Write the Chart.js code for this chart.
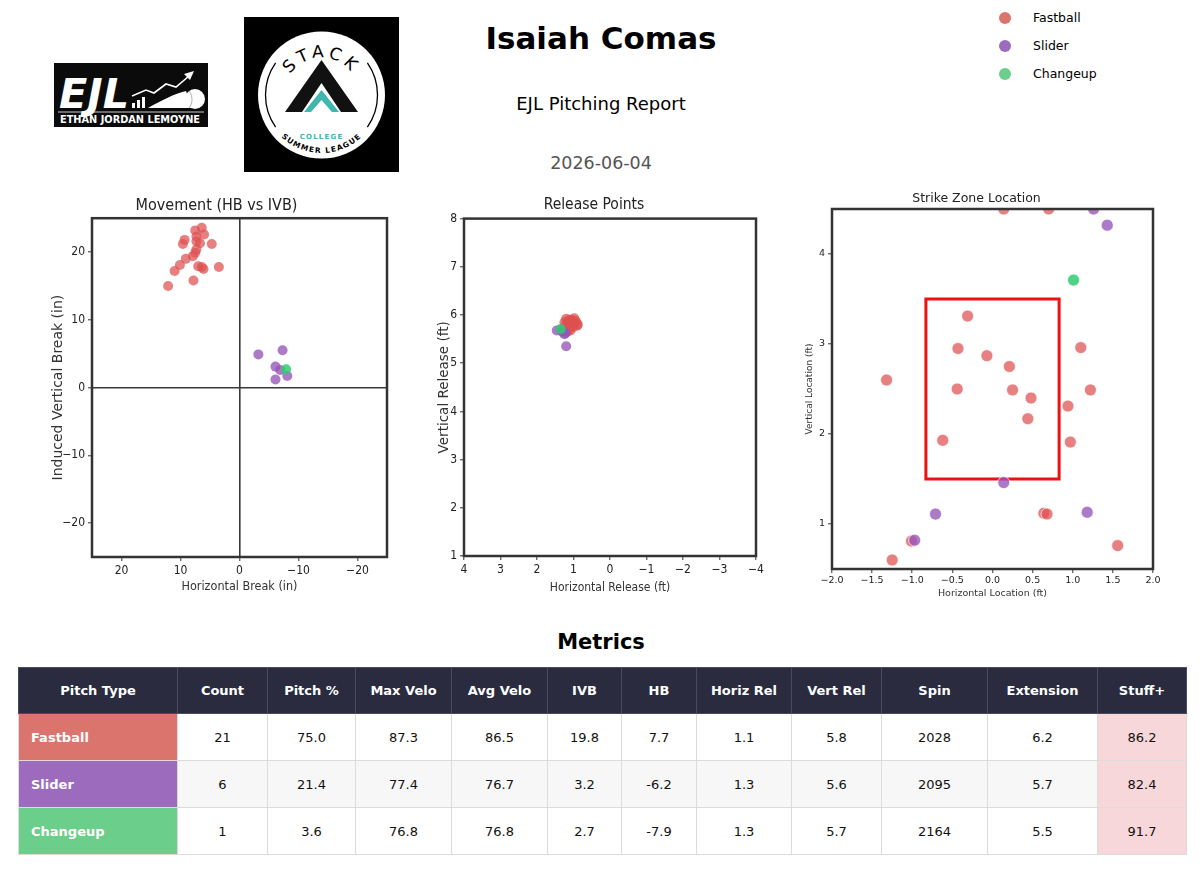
<!DOCTYPE html>
<html>
<head>
<meta charset="utf-8">
<title>Isaiah Comas - EJL Pitching Report</title>
<script src="https://cdn.jsdelivr.net/npm/chart.js@4.4.1/dist/chart.umd.min.js"></script>
<style>
  html, body { margin: 0; padding: 0; background: #fff; }
  #page { position: relative; width: 1200px; height: 880px; overflow: hidden; font-family: 'DejaVu Sans', sans-serif; color: #000; }
  .abs { position: absolute; }
  .center { position: absolute; left: 0; width: 1202px; text-align: center; white-space: nowrap; }
  #title { top: 19px; font-size: 31px; font-weight: bold; line-height: 38px; }
  #subtitle { top: 93px; font-size: 18px; line-height: 22px; }
  #date { top: 152px; font-size: 17.5px; line-height: 22px; color: #555; }
  #legend { position: absolute; left: 999px; top: 0; font-size: 12.5px; }
  .leg { position: absolute; left: 0; height: 20px; line-height: 20px; white-space: nowrap; }
  .leg i { position: absolute; left: 0; top: 4px; width: 12px; height: 12px; border-radius: 50%; }
  .leg span { position: absolute; left: 34px; }
  .chartbox { position: absolute; }
  #metricsTitle { top: 629px; font-size: 21px; font-weight: bold; line-height: 26px; }
  #metrics { position: absolute; left: 18px; top: 667px; border-collapse: collapse; table-layout: fixed; font-size: 13px; }
  #metrics th { background: #2a2b3e; color: #fff; font-weight: bold; height: 45px; padding: 0; border: 1px solid #4a4b5c; text-align: center; }
  #metrics td { height: 46px; padding: 0; border: 1px solid #dcdcdc; text-align: center; color: #111; }
  #metrics tr.alt td { background: #f7f7f7; }
  #metrics td.ptype { color: #fff; font-weight: bold; text-align: left; padding-left: 12px; }
  #metrics td.stuff { background: #f8d7da !important; }
</style>
</head>
<body>
<div id="page">

  <svg class="abs" style="left:54px;top:63px" width="154" height="64" viewBox="0 0 154 64">
    <rect width="154" height="64" fill="#0b0b0b"/>
    <text x="5" y="45" fill="#fff" font-family="DejaVu Sans" font-weight="bold" font-style="italic" font-size="40" textLength="70" lengthAdjust="spacingAndGlyphs">EJL</text>
    <g fill="#fff">
      <rect x="78" y="40" width="3" height="5"/><rect x="83" y="37" width="3" height="8"/><rect x="88" y="34" width="3" height="11"/>
    </g>
    <polyline points="78,33 92,27 100,30 112,21 122,24 135,13" fill="none" stroke="#fff" stroke-width="1.6"/>
    <polygon points="140,8 130,11 136,17" fill="#fff"/>
    <path d="M94,45 C108,37 120,31 132,28 L138,45 Z" fill="#fff"/>
    <circle cx="141" cy="36" r="10" fill="#fff"/>
    <path d="M135,28 C139,33 139,40 135,45" fill="none" stroke="#999" stroke-width="0.8"/>
    <line x1="4" y1="49" x2="150" y2="49" stroke="#fff" stroke-width="0.8"/>
    <text x="76" y="60" text-anchor="middle" fill="#fff" font-family="DejaVu Sans" font-weight="bold" font-size="10.5" textLength="140" lengthAdjust="spacingAndGlyphs">ETHAN JORDAN LEMOYNE</text>
  </svg>

  <svg class="abs" style="left:244px;top:17px" width="155" height="155" viewBox="0 0 155 155">
    <rect width="155" height="155" fill="#000"/>
    <circle cx="77.5" cy="78" r="63.5" fill="#fff"/>
    <path d="M31.6,45.9 A56,56 0 0 0 31.6,110.1" fill="none" stroke="#000" stroke-width="1.3"/>
    <path d="M123.4,45.9 A56,56 0 0 1 123.4,110.1" fill="none" stroke="#000" stroke-width="1.3"/>
    <path id="arcTop" d="M 40,78 A 37.5,37.5 0 0 1 115,78" fill="none"/>
    <text font-family="DejaVu Sans" font-size="17" letter-spacing="4" fill="#000"><textPath href="#arcTop" startOffset="50%" text-anchor="middle">STACK</textPath></text>
    <path d="M77.5,43 L114,95 L97,95 L77.5,66 L58,95 L41,95 Z" fill="#111"/>
    <path d="M77.5,73 L95,95 L88,95 L77.5,83 L67,95 L60,95 Z" fill="#3fb6ae"/>
    <text x="77.5" y="122" text-anchor="middle" font-family="DejaVu Sans" font-weight="bold" font-size="7" letter-spacing="1.2" fill="#3fb6ae">COLLEGE</text>
    <path id="arcBot" d="M 19.5,78 A 58,58 0 0 0 135.5,78" fill="none"/>
    <text font-family="DejaVu Sans" font-weight="bold" font-size="7.5" letter-spacing="1.2" fill="#000"><textPath href="#arcBot" startOffset="50%" text-anchor="middle">SUMMER LEAGUE</textPath></text>
  </svg>

  <div id="title" class="center">Isaiah Comas</div>
  <div id="subtitle" class="center">EJL Pitching Report</div>
  <div id="date" class="center">2026-06-04</div>
  <div id="legend"></div>

  <div class="chartbox" style="left:40px;top:190px;width:360px;height:410px"><canvas id="movementChart"></canvas></div>
  <div class="chartbox" style="left:420px;top:190px;width:360px;height:410px"><canvas id="releaseChart"></canvas></div>
  <div class="chartbox" style="left:790px;top:180px;width:380px;height:430px"><canvas id="locationChart"></canvas></div>

  <div id="metricsTitle" class="center">Metrics</div>
  <table id="metrics"></table>
</div>

<script>
// ---- data ----
const pitchTypes = ['Fastball', 'Slider', 'Changeup'];
const pitchColors = ['#dc746e', '#9d6bbd', '#6bce8a'];
const pointColors = ['rgba(222, 80, 80, 0.72)', 'rgba(150, 85, 185, 0.78)', 'rgba(46, 204, 113, 0.85)'];

// movement: horizontal break / induced vertical break (in)
const fastballHB  = [12.1, 11.0, 10.1, 9.1, 9.6, 9.3, 7.9, 7.5, 7.3, 7.5, 7.3, 6.4, 6.0, 6.7, 4.7, 7.8, 7.0, 6.4, 6.1, 3.5, 7.3];
const fastballIVB = [15.0, 17.2, 18.1, 19.0, 21.2, 21.8, 19.4, 19.9, 20.4, 23.2, 22.3, 23.6, 22.6, 21.3, 21.2, 15.8, 17.9, 17.8, 17.5, 17.8, 21.6];
const sliderHB    = [-3.2, -7.3, -6.1, -6.9, -6.1, -8.1];
const sliderIVB   = [4.9, 5.5, 3.1, 2.6, 1.2, 1.7];
const changeupHB  = [-7.9];
const changeupIVB = [2.7];

// release points (ft)
const fastballRelX = [1.20, 1.15, 1.05, 0.98, 0.92, 0.90, 1.00, 1.10, 1.18, 1.22, 1.12, 1.05, 0.95, 1.25, 1.08, 1.15, 1.02, 0.88, 1.20, 1.10, 1.16];
const fastballRelZ = [5.92, 5.88, 5.90, 5.93, 5.85, 5.78, 5.75, 5.72, 5.78, 5.70, 5.82, 5.80, 5.88, 5.85, 5.68, 5.75, 5.84, 5.80, 5.80, 5.90, 5.66];
const sliderRelX   = [1.46, 1.22, 1.30, 1.20, 1.35, 1.25];
const sliderRelZ   = [5.68, 5.62, 5.65, 5.35, 5.70, 5.60];
const changeupRelX = [1.35];
const changeupRelZ = [5.71];

// plate location (ft)
const fastballLocX = [0.14, 0.70, -0.31, -0.43, -0.07, 0.21, -1.32, -0.44, 0.25, 0.48, 1.10, 1.22, 0.94, 0.44, -0.62, 0.97, 0.64, 0.68, -1.01, -1.25, 1.56];
const fastballLocZ = [4.50, 4.50, 3.31, 2.95, 2.87, 2.75, 2.60, 2.50, 2.49, 2.40, 2.96, 2.49, 2.31, 2.17, 1.93, 1.91, 1.12, 1.11, 0.81, 0.60, 0.76];
const sliderLocX   = [1.26, 1.43, 0.14, -0.71, -0.97, 1.18];
const sliderLocZ   = [4.50, 4.32, 1.46, 1.11, 0.82, 1.13];
const changeupLocX = [1.01];
const changeupLocZ = [3.71];

// strike zone box
const zoneX = [-0.83, 0.83];
const zoneZ = [1.5, 3.5];

// tick labels
const movementTicks = [-20, -10, 0, 10, 20];
const releaseXTicks = [4, 3, 2, 1, 0, -1, -2, -3, -4];
const releaseZTicks = [1, 2, 3, 4, 5, 6, 7, 8];
const locationXTicks = [-2, -1.5, -1, -0.5, 0, 0.5, 1, 1.5, 2];
const locationZTicks = [1, 2, 3, 4];

// metrics table
const metricColumns = ['Pitch Type', 'Count', 'Pitch %', 'Max Velo', 'Avg Velo', 'IVB', 'HB', 'Horiz Rel', 'Vert Rel', 'Spin', 'Extension', 'Stuff+'];
const fastballMetrics = ['21', '75.0', '87.3', '86.5', '19.8', '7.7', '1.1', '5.8', '2028', '6.2', '86.2'];
const sliderMetrics   = ['6', '21.4', '77.4', '76.7', '3.2', '-6.2', '1.3', '5.6', '2095', '5.7', '82.4'];
const changeupMetrics = ['1', '3.6', '76.8', '76.8', '2.7', '-7.9', '1.3', '5.7', '2164', '5.5', '91.7'];
const colWidths = [159, 90, 88, 96, 96, 74, 75, 95, 90, 106, 110, 89];

// ---- helpers ----
const NARROW = "'Liberation Sans Narrow', 'DejaVu Sans Condensed', 'DejaVu Sans', sans-serif";
const REGULAR = "'DejaVu Sans', sans-serif";

function toPoints(xs, ys) {
  return xs.map((x, i) => ({ x: x, y: ys[i] }));
}

function minusSign(v, decimals) {
  let s = decimals ? Number(v).toFixed(decimals) : String(v);
  return s.replace('-', '\u2212');
}

const framePlugin = {
  id: 'frame',
  afterDatasetsDraw(chart) {
    const a = chart.chartArea, c = chart.ctx;
    c.save();
    c.strokeStyle = '#333';
    c.lineWidth = 2.5;
    c.strokeRect(a.left, a.top, a.right - a.left, a.bottom - a.top);
    c.restore();
  }
};

function scaleOpts(o) {
  return {
    type: 'linear',
    min: o.min,
    max: o.max,
    reverse: !!o.reverse,
    afterBuildTicks: s => { s.ticks = o.ticks.map(v => ({ value: v })); },
    afterFit: s => {
      if (o.width) s.width = o.width;
      if (o.height) s.height = o.height;
    },
    grid: {
      drawOnChartArea: !!o.zeroLine,
      color: c => (o.zeroLine && c.tick && c.tick.value === 0) ? '#3a3a3a' : 'rgba(0,0,0,0)',
      lineWidth: 1.6,
      drawTicks: true,
      tickLength: 4,
      tickColor: '#333',
      tickWidth: 1
    },
    border: { display: false },
    ticks: {
      autoSkip: false,
      maxRotation: 0,
      padding: o.tickPad || 3,
      color: '#222',
      font: o.tickFont,
      callback: v => minusSign(v, o.decimals)
    },
    title: { display: true, text: o.title, color: '#333', font: o.titleFont, padding: o.titlePad }
  };
}

function pitchSets(xsList, ysList, radius, edge) {
  return pitchTypes.map((name, i) => ({
    label: name,
    data: toPoints(xsList[i], ysList[i]),
    backgroundColor: pointColors[i],
    borderColor: edge ? 'rgba(255,255,255,0.85)' : pointColors[i],
    borderWidth: edge ? 0.8 : 0,
    pointRadius: radius,
    pointHoverRadius: radius,
    order: 3 - i
  }));
}

function baseOptions(o) {
  return {
    responsive: true,
    maintainAspectRatio: false,
    animation: false,
    layout: { padding: { left: o.left, right: o.right, top: 0, bottom: 0 } },
    plugins: {
      legend: { display: false },
      tooltip: { enabled: false },
      title: { display: true, text: o.title, color: '#222', font: o.titleFont, padding: o.titlePad }
    },
    scales: { x: o.x, y: o.y }
  };
}

// ---- header legend ----
const legendBox = document.getElementById('legend');
pitchTypes.forEach((name, i) => {
  const row = document.createElement('div');
  row.className = 'leg';
  row.style.top = (8 + i * 28) + 'px';
  row.innerHTML = '<i style="background:' + pitchColors[i] + '"></i><span>' + name + '</span>';
  legendBox.appendChild(row);
});

// ---- movement chart ----
new Chart(document.getElementById('movementChart'), {
  type: 'scatter',
  data: { datasets: pitchSets([fastballHB, sliderHB, changeupHB], [fastballIVB, sliderIVB, changeupIVB], 5, false) },
  options: baseOptions({
    left: 6, right: 13,
    title: 'Movement (HB vs IVB)',
    titleFont: { family: NARROW, size: 16, weight: 'normal' },
    titlePad: { top: 6, bottom: 3 },
    x: scaleOpts({ min: -25, max: 25, reverse: true, ticks: movementTicks, zeroLine: true, height: 43,
      tickFont: { family: NARROW, size: 12 }, title: 'Horizontal Break (in)',
      titleFont: { family: NARROW, size: 12.5 }, titlePad: { top: 2, bottom: 6 } }),
    y: scaleOpts({ min: -25, max: 25, ticks: movementTicks, zeroLine: true, width: 46,
      tickFont: { family: NARROW, size: 12 }, title: 'Induced Vertical Break (in)',
      titleFont: { family: REGULAR, size: 14 }, titlePad: { top: 4, bottom: 0 } })
  }),
  plugins: [framePlugin]
});

// ---- release chart ----
new Chart(document.getElementById('releaseChart'), {
  type: 'scatter',
  data: { datasets: pitchSets([fastballRelX, sliderRelX, changeupRelX], [fastballRelZ, sliderRelZ, changeupRelZ], 5, false) },
  options: baseOptions({
    left: 12, right: 24,
    title: 'Release Points',
    titleFont: { family: NARROW, size: 15.5, weight: 'normal' },
    titlePad: { top: 6, bottom: 4 },
    x: scaleOpts({ min: -4, max: 4, reverse: true, ticks: releaseXTicks, height: 44,
      tickFont: { family: NARROW, size: 12 }, title: 'Horizontal Release (ft)',
      titleFont: { family: NARROW, size: 12 }, titlePad: { top: 2, bottom: 5 } }),
    y: scaleOpts({ min: 1, max: 8, ticks: releaseZTicks, width: 32,
      tickFont: { family: NARROW, size: 12 }, title: 'Vertical Release (ft)',
      titleFont: { family: REGULAR, size: 13.5 }, titlePad: { top: 4, bottom: 0 } })
  }),
  plugins: [framePlugin]
});

// ---- location chart ----
const zoneSet = {
  label: 'Strike Zone',
  data: toPoints([zoneX[0], zoneX[1], zoneX[1], zoneX[0], zoneX[0]], [zoneZ[0], zoneZ[0], zoneZ[1], zoneZ[1], zoneZ[0]]),
  showLine: true,
  borderColor: '#ee1111',
  borderWidth: 3,
  borderJoinStyle: 'miter',
  borderCapStyle: 'square',
  pointRadius: 0,
  pointHoverRadius: 0,
  fill: false,
  order: 10
};

new Chart(document.getElementById('locationChart'), {
  type: 'scatter',
  data: { datasets: pitchSets([fastballLocX, sliderLocX, changeupLocX], [fastballLocZ, sliderLocZ, changeupLocZ], 6, true).concat([zoneSet]) },
  options: baseOptions({
    left: 10, right: 17,
    title: 'Strike Zone Location',
    titleFont: { family: REGULAR, size: 12.5, weight: 'normal' },
    titlePad: { top: 11.5, bottom: 2.5 },
    x: scaleOpts({ min: -2, max: 2, ticks: locationXTicks, decimals: 1, height: 41, tickPad: 2,
      tickFont: { family: REGULAR, size: 9.5 }, title: 'Horizontal Location (ft)',
      titleFont: { family: REGULAR, size: 9.5 }, titlePad: { top: 2, bottom: 11 } }),
    y: scaleOpts({ min: 0.5, max: 4.5, ticks: locationZTicks, width: 32,
      tickFont: { family: REGULAR, size: 9.5 }, title: 'Vertical Location (ft)',
      titleFont: { family: REGULAR, size: 9 }, titlePad: { top: 4, bottom: 0 } })
  }),
  plugins: [framePlugin]
});

// ---- metrics table ----
const table = document.getElementById('metrics');
let html = '<colgroup>' + colWidths.map(w => '<col style="width:' + w + 'px">').join('') + '</colgroup>';
html += '<tr>' + metricColumns.map(c => '<th>' + c + '</th>').join('') + '</tr>';
[fastballMetrics, sliderMetrics, changeupMetrics].forEach((row, i) => {
  html += '<tr' + (i % 2 === 1 ? ' class="alt"' : '') + '>';
  html += '<td class="ptype" style="background:' + pitchColors[i] + '">' + pitchTypes[i] + '</td>';
  row.forEach((v, j) => {
    html += '<td' + (j === row.length - 1 ? ' class="stuff"' : '') + '>' + v + '</td>';
  });
  html += '</tr>';
});
table.innerHTML = html;
table.style.width = colWidths.reduce((a, b) => a + b, 0) + 'px';
</script>
</body>
</html>
